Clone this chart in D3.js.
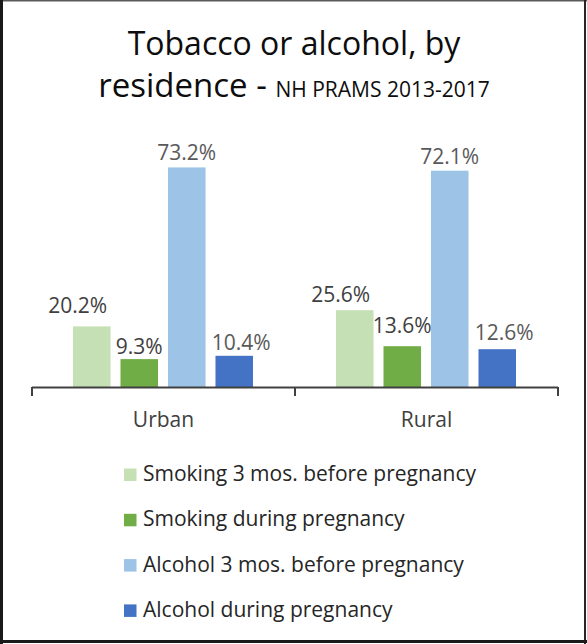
<!DOCTYPE html>
<html>
<head>
<meta charset="utf-8">
<script src="https://cdn.jsdelivr.net/npm/d3@7"></script>
<style>
  html, body { margin: 0; padding: 0; background: #fff; }
  svg { display: block; font-family: "Open Sans", "Noto Sans", sans-serif; }
</style>
</head>
<body>
<div id="chart"></div>
<script>
// Data
const categories = ["Urban", "Rural"];
const seriesNames = [
  "Smoking 3 mos. before pregnancy",
  "Smoking during pregnancy",
  "Alcohol 3 mos. before pregnancy",
  "Alcohol during pregnancy"
];
const urbanValues = [20.2, 9.3, 73.2, 10.4];
const ruralValues = [25.6, 13.6, 72.1, 12.6];
const seriesColors = ["#C5E0B4", "#70AD47", "#9DC3E6", "#4472C4"];
const labelColors = ["#404040", "#404040", "#595959", "#595959"];

// Label tweaks (the labels were nudged by hand in the original)
const labelDx = [-14, 0, 0, 7];
const labelLift = { Urban: [13, 5, 7, 6], Rural: [8, 13, 7, 9] };

const width = 587, height = 644;
const valuesByCat = { Urban: urbanValues, Rural: ruralValues };

const svg = d3.select("#chart").append("svg")
  .attr("width", width)
  .attr("height", height);

// frame
svg.append("rect").attr("x", 0).attr("y", 0).attr("width", width).attr("height", height).attr("fill", "#fff");
const frame = svg.append("g").attr("stroke-linecap", "square");
frame.append("line").attr("x1", 0).attr("y1", 0.75).attr("x2", width).attr("y2", 0.75)
  .attr("stroke", "#595959").attr("stroke-width", 1.5);
frame.append("line").attr("x1", width - 2).attr("y1", 0).attr("x2", width - 2).attr("y2", height)
  .attr("stroke", "#262626").attr("stroke-width", 2);
frame.append("line").attr("x1", 1.5).attr("y1", 0).attr("x2", 1.5).attr("y2", height)
  .attr("stroke", "#1a1a1a").attr("stroke-width", 3);
frame.append("line").attr("x1", 0).attr("y1", height - 2.5).attr("x2", width).attr("y2", height - 2.5)
  .attr("stroke", "#1a1a1a").attr("stroke-width", 3);

// title
const title = svg.append("text")
  .attr("text-anchor", "middle")
  .attr("fill", "#0d0d0d");
title.append("tspan").attr("x", 294).attr("y", 55)
  .attr("font-size", 32).text("Tobacco or alcohol, by");
const line2 = title.append("tspan").attr("x", 294).attr("y", 97);
line2.append("tspan").attr("font-size", 33).text("residence - ");
line2.append("tspan").attr("font-size", 21).text("NH PRAMS 2013-2017");

// scales
const x0 = d3.scaleBand().domain(categories).range([32, 558]);
const x1 = d3.scaleBand().domain(seriesNames).range([41, 221]).paddingInner(0.21);
const y = d3.scaleLinear().domain([0, 80]).range([387, 147]);

const groups = svg.append("g").selectAll("g")
  .data(categories)
  .join("g")
  .attr("transform", d => `translate(${x0(d)},0)`);

groups.selectAll("rect")
  .data(c => seriesNames.map((s, i) => ({ cat: c, series: s, i, value: valuesByCat[c][i] })))
  .join("rect")
  .attr("x", d => x1(d.series))
  .attr("y", d => y(d.value))
  .attr("width", x1.bandwidth())
  .attr("height", d => y(0) - y(d.value))
  .attr("fill", d => seriesColors[d.i]);

groups.selectAll("text.value")
  .data(c => seriesNames.map((s, i) => ({ cat: c, series: s, i, value: valuesByCat[c][i] })))
  .join("text")
  .attr("class", "value")
  .attr("x", d => x1(d.series) + x1.bandwidth() / 2 + labelDx[d.i])
  .attr("y", d => y(d.value) - labelLift[d.cat][d.i])
  .attr("text-anchor", "middle")
  .attr("font-size", 21)
  .attr("fill", d => labelColors[d.i])
  .text(d => d.value.toFixed(1) + "%");

// category axis: line with ticks at the band edges
const axis = svg.append("g").attr("stroke", "#404040");
axis.append("line")
  .attr("x1", x0.range()[0]).attr("x2", x0.range()[1])
  .attr("y1", y(0) + 0.5).attr("y2", y(0) + 0.5)
  .attr("stroke-width", 2);
const tickXs = categories.map(c => x0(c)).concat([x0.range()[1]]);
axis.selectAll("line.tick")
  .data(tickXs)
  .join("line")
  .attr("class", "tick")
  .attr("x1", d => d).attr("x2", d => d)
  .attr("y1", y(0)).attr("y2", y(0) + 9)
  .attr("stroke-width", 2);

svg.append("g").selectAll("text")
  .data(categories)
  .join("text")
  .attr("x", d => x0(d) + x0.bandwidth() / 2)
  .attr("y", 427)
  .attr("text-anchor", "middle")
  .attr("font-size", 21)
  .attr("fill", "#404040")
  .text(d => d);

// legend
const legend = svg.append("g").selectAll("g")
  .data(seriesNames)
  .join("g")
  .attr("transform", (d, i) => `translate(124,${481 + i * 45.3})`);
legend.append("rect")
  .attr("x", 0).attr("y", -12.5)
  .attr("width", 12.5).attr("height", 12.5)
  .attr("fill", (d, i) => seriesColors[i]);
legend.append("text")
  .attr("x", 19).attr("y", 0)
  .attr("font-size", 21)
  .attr("fill", "#262626")
  .text(d => d);
</script>
</body>
</html>
